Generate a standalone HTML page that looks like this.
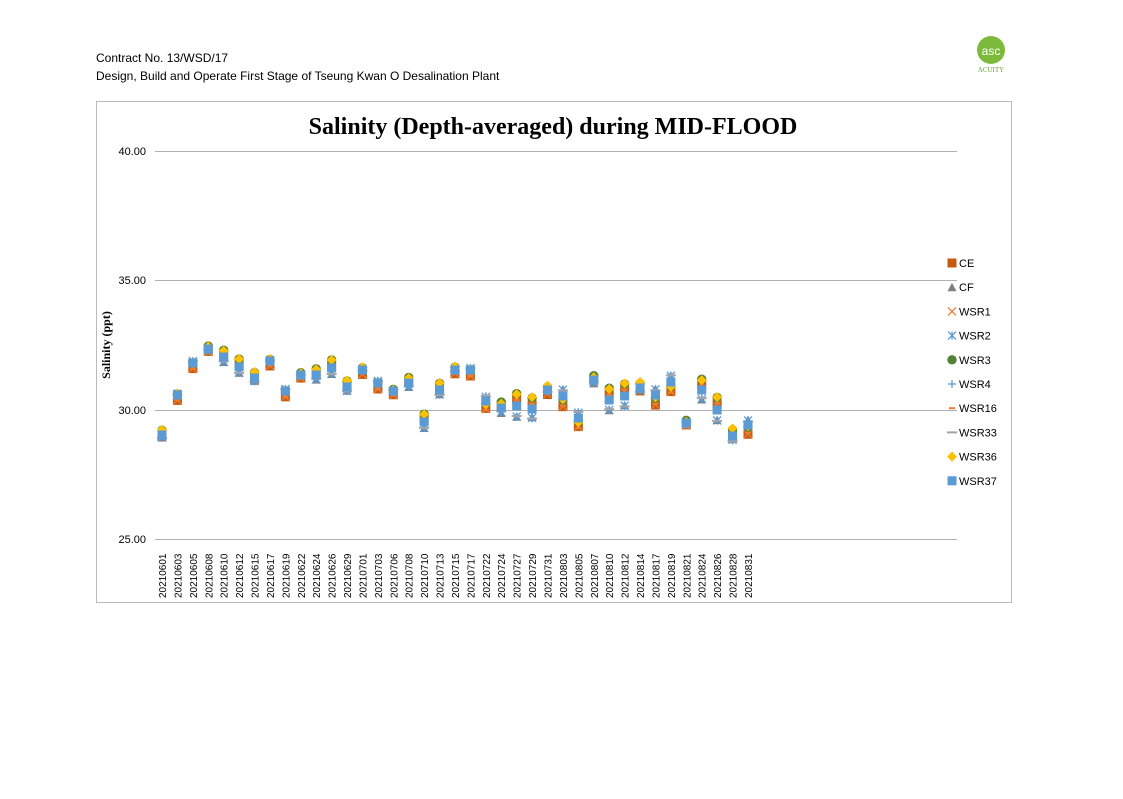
<!DOCTYPE html><html><head><meta charset="utf-8"><style>
body{margin:0;background:#fff;font-family:"Liberation Sans",sans-serif}
</style></head><body>
<svg width="1123" height="794" xmlns="http://www.w3.org/2000/svg" id="s">
<text x="96" y="62" font-size="12" font-family="Liberation Sans">Contract No. 13/WSD/17</text>
<text x="96" y="80" font-size="12" font-family="Liberation Sans">Design, Build and Operate First Stage of Tseung Kwan O Desalination Plant</text>
<circle cx="991" cy="50" r="14" fill="#7dba3c"/><text x="991" y="55" font-size="12" fill="#fff" text-anchor="middle" font-family="Liberation Sans">asc</text>
<text x="991" y="72" font-size="7" fill="#6aa632" text-anchor="middle" font-family="Liberation Serif">ACUITY</text>
<rect x="96.5" y="101.5" width="915" height="501" fill="none" stroke="#bbb"/>
<text x="553" y="134" font-size="24" font-weight="bold" text-anchor="middle" font-family="Liberation Serif">Salinity (Depth-averaged) during MID-FLOOD</text>
<g stroke="#b0b0b0" stroke-width="1">
<line x1="155" y1="151.5" x2="957" y2="151.5"/><line x1="155" y1="280.5" x2="957" y2="280.5"/>
<line x1="155" y1="410.5" x2="957" y2="410.5"/><line x1="155" y1="539.5" x2="957" y2="539.5"/>
</g>
<g font-size="11" text-anchor="end" font-family="Liberation Sans">
<text x="146" y="155">40.00</text><text x="146" y="284">35.00</text><text x="146" y="414">30.00</text><text x="146" y="543">25.00</text></g>
<text transform="translate(110,345) rotate(-90)" font-size="12" font-weight="bold" text-anchor="middle" font-family="Liberation Serif">Salinity (ppt)</text>
<g id="pts"></g><g id="xl" font-size="10" font-family="Liberation Sans"></g><g id="lg" font-size="11" font-family="Liberation Sans"></g>
</svg>
<script>
var d=["0601","0603","0605","0608","0610","0612","0615","0617","0619","0622","0624","0626","0629","0701","0703","0706","0708","0710","0713","0715","0717","0722","0724","0727","0729","0731","0803","0805","0807","0810","0812","0814","0817","0819","0821","0824","0826","0828","0831"];
var yb=[435,395,363,349,357,367,378,361,391,375,375,368,387,370,383,391,383,422,390,370,370,401,408,406,409,390,396,418,380,400,396,388,395,382,423,390,410,436,425];
var ser=[["CE","#c55a11","sq"],["CF","#7f7f7f","tri"],["WSR1","#ed7d31","x"],["WSR2","#5b9bd5","star"],["WSR3","#548235","circ"],["WSR4","#5b9bd5","plus"],["WSR16","#ed7d31","dash"],["WSR33","#a5a5a5","dash2"],["WSR36","#ffc000","dia"],["WSR37","#5b9bd5","sq"]];
var NS="http://www.w3.org/2000/svg";
function el(p,t,a){var e=document.createElementNS(NS,t);for(var k in a)e.setAttribute(k,a[k]);p.appendChild(e);return e;}
function mk(p,x,y,s){var c=s[1],t=s[2];
 if(t=="sq")el(p,"rect",{x:x-4.5,y:y-4.5,width:9,height:9,fill:c});
 else if(t=="tri")el(p,"polygon",{points:(x-4.5)+","+(y+4)+" "+(x+4.5)+","+(y+4)+" "+x+","+(y-4.5),fill:c});
 else if(t=="x"){el(p,"path",{d:"M"+(x-4)+" "+(y-4)+"L"+(x+4)+" "+(y+4)+"M"+(x+4)+" "+(y-4)+"L"+(x-4)+" "+(y+4),stroke:c,"stroke-width":1.3});}
 else if(t=="star"){el(p,"path",{d:"M"+(x-4)+" "+(y-4)+"L"+(x+4)+" "+(y+4)+"M"+(x+4)+" "+(y-4)+"L"+(x-4)+" "+(y+4)+"M"+x+" "+(y-4)+"L"+x+" "+(y+4),stroke:c,"stroke-width":1.3});}
 else if(t=="circ")el(p,"circle",{cx:x,cy:y,r:4.7,fill:c});
 else if(t=="plus")el(p,"path",{d:"M"+(x-4)+" "+y+"L"+(x+4)+" "+y+"M"+x+" "+(y-4)+"L"+x+" "+(y+4),stroke:c,"stroke-width":1.3});
 else if(t=="dash")el(p,"rect",{x:x-3,y:y-1,width:6,height:2,fill:c});
 else if(t=="dash2")el(p,"rect",{x:x-5,y:y-1,width:10,height:2,fill:c});
 else if(t=="dia")el(p,"polygon",{points:x+","+(y-5)+" "+(x+5)+","+y+" "+x+","+(y+5)+" "+(x-5)+","+y,fill:c});}
var P=document.getElementById("pts"),X=document.getElementById("xl"),L=document.getElementById("lg");
for(var i=0;i<d.length;i++){var x=162+i*15.42;
 var spread=(i>=21)?9:4;
 for(var j=0;j<ser.length;j++){var off=(j==9)?0:Math.sin(i*7.3+j*3.1)*spread+((j==4||j==8)?-4:2);
  mk(P,x,yb[i]+off,ser[j]);}
 var t=el(X,"text",{transform:"translate("+(x+4)+",598) rotate(-90)"});t.textContent="2021"+d[i];}
for(var j=0;j<ser.length;j++){var y=263+j*24.2;mk(L,952,y,ser[j]);var t=el(L,"text",{x:959,y:y+4});t.textContent=ser[j][0];}
</script>
</body></html>
